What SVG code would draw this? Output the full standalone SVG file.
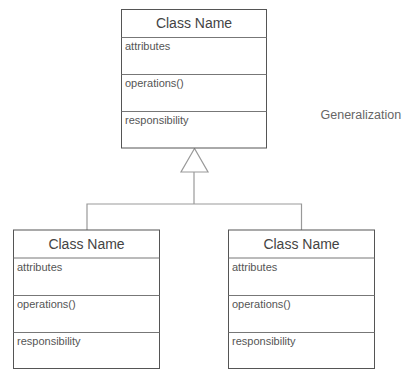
<svg xmlns="http://www.w3.org/2000/svg" width="412" height="379" viewBox="0 0 412 379">
<style>
.box{fill:#fff;stroke:#555;stroke-width:1}
.div{stroke:#777;stroke-width:1}
.title{font-family:"Liberation Sans",Arial,sans-serif;font-size:14px;fill:#444;text-anchor:middle}
.item{font-family:"Liberation Sans",Arial,sans-serif;font-size:11px;fill:#555}
.conn{fill:none;stroke:#999;stroke-width:1.2}
.lbl{font-family:"Liberation Sans",Arial,sans-serif;font-size:12.5px;fill:#666}
</style>
<rect width="412" height="379" fill="#fff"/>
<g id="connectors">
<polyline class="conn" points="194,172 194,204"/>
<polyline class="conn" points="87,230 87,204 301.5,204 301.5,230"/>
<polygon points="194.5,148.5 181,172 208,172" fill="#fff" stroke="#999" stroke-width="1.2"/>
</g>
<g id="parent">
<rect class="box" x="121.5" y="9.5" width="145" height="138.5"/>
<line class="div" x1="121.5" y1="37.5" x2="266.5" y2="37.5"/>
<line class="div" x1="121.5" y1="74.5" x2="266.5" y2="74.5"/>
<line class="div" x1="121.5" y1="111.5" x2="266.5" y2="111.5"/>
<text class="title" x="194" y="28">Class Name</text>
<text class="item" x="125" y="50">attributes</text>
<text class="item" x="125" y="87">operations()</text>
<text class="item" x="125" y="124">responsibility</text>
</g>
<g id="child1">
<rect class="box" x="13.5" y="230" width="146" height="138.5"/>
<line class="div" x1="13.5" y1="258" x2="159.5" y2="258"/>
<line class="div" x1="13.5" y1="295.5" x2="159.5" y2="295.5"/>
<line class="div" x1="13.5" y1="332.5" x2="159.5" y2="332.5"/>
<text class="title" x="86.5" y="248.5">Class Name</text>
<text class="item" x="17" y="271">attributes</text>
<text class="item" x="17" y="308">operations()</text>
<text class="item" x="17" y="345">responsibility</text>
</g>
<g id="child2">
<rect class="box" x="228.5" y="230" width="146" height="138.5"/>
<line class="div" x1="228.5" y1="258" x2="374.5" y2="258"/>
<line class="div" x1="228.5" y1="295.5" x2="374.5" y2="295.5"/>
<line class="div" x1="228.5" y1="332.5" x2="374.5" y2="332.5"/>
<text class="title" x="301.5" y="248.5">Class Name</text>
<text class="item" x="232" y="271">attributes</text>
<text class="item" x="232" y="308">operations()</text>
<text class="item" x="232" y="345">responsibility</text>
</g>
<text class="lbl" x="320.5" y="119">Generalization</text>
</svg>
